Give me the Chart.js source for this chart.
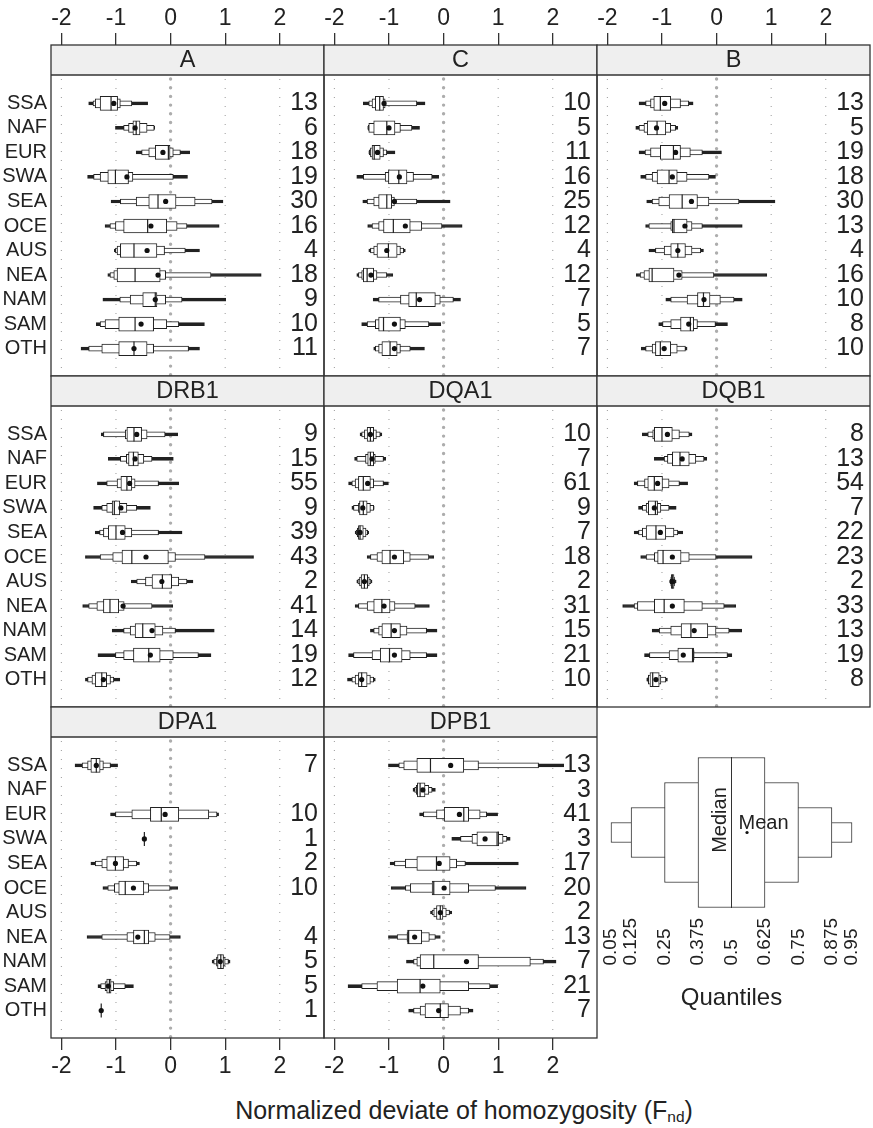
<!DOCTYPE html>
<html>
<head>
<meta charset="utf-8">
<script src="https://cdn.jsdelivr.net/npm/chart.js@4.4.1/dist/chart.umd.min.js"></script>
<style>
  body { margin: 0; background: #fff; width: 873px; height: 1128px; position: relative; overflow: hidden;
         font-family: 'Liberation Sans', Arial, Helvetica, sans-serif; color: #222; }
  .box { position: absolute; }
  #xtitle { position: absolute; left: 0; width: 928px; top: 1098px; text-align: center; font-size: 25px; line-height: 25px; }
  #xtitle sub { font-size: 15.5px; vertical-align: -3px; }
</style>
</head>
<body>
<div id="xtitle">Normalized deviate of homozygosity (F<sub>nd</sub>)</div>
<script>
const regions = ['SSA', 'NAF', 'EUR', 'SWA', 'SEA', 'OCE', 'AUS', 'NEA', 'NAM', 'SAM', 'OTH'];
const xTicks = [-2, -1, 0, 1, 2];

// each row: q05, q125, q25, q375, median, q625, q75, q875, q95
const statsA = [
  [-1.50, -1.42, -1.38, -1.29, -1.09, -0.97, -0.92, -0.71, -0.42],
  [-1.01, -0.86, -0.77, -0.69, -0.63, -0.56, -0.43, -0.30, -0.29],
  [-0.63, -0.53, -0.40, -0.28, -0.04, -0.01, 0.05, 0.18, 0.35],
  [-1.52, -1.41, -1.29, -1.15, -1.01, -0.77, -0.69, 0.05, 0.31],
  [-1.09, -0.92, -0.63, -0.40, -0.23, 0.10, 0.45, 0.76, 0.96],
  [-1.20, -1.11, -1.01, -0.86, -0.42, -0.07, 0.12, 0.30, 0.89],
  [-1.03, -1.01, -0.98, -0.92, -0.67, -0.25, -0.11, 0.27, 0.53],
  [-1.15, -1.11, -1.04, -0.98, -0.65, -0.19, -0.09, 0.74, 1.66],
  [-1.24, -0.93, -0.74, -0.51, -0.28, -0.25, -0.09, 0.21, 1.01],
  [-1.36, -1.29, -1.20, -0.95, -0.65, -0.31, -0.07, 0.15, 0.62],
  [-1.64, -1.50, -1.26, -0.95, -0.67, -0.43, -0.31, 0.33, 0.53]
];
const meanA = [-1.04, -0.65, -0.14, -0.80, -0.09, -0.36, -0.43, -0.23, -0.28, -0.54, -0.67];
const countA = [13, 6, 18, 19, 30, 16, 4, 18, 9, 10, 11];

const statsC = [
  [-1.47, -1.37, -1.31, -1.25, -1.17, -1.10, -1.07, -0.49, -0.34],
  [-1.39, -1.38, -1.37, -1.28, -1.04, -0.89, -0.79, -0.58, -0.44],
  [-1.37, -1.36, -1.34, -1.31, -1.27, -1.16, -1.10, -1.04, -0.89],
  [-1.59, -1.47, -1.07, -1.01, -0.82, -0.67, -0.55, -0.21, -0.09],
  [-1.48, -1.40, -1.28, -1.19, -1.04, -0.95, -0.90, -0.49, 0.12],
  [-1.39, -1.31, -1.19, -1.10, -0.92, -0.61, -0.40, -0.03, 0.34],
  [-1.37, -1.34, -1.28, -1.22, -1.01, -0.85, -0.79, -0.73, -0.70],
  [-1.59, -1.56, -1.50, -1.47, -1.40, -1.28, -1.22, -1.04, -0.93],
  [-1.29, -1.19, -0.79, -0.64, -0.50, -0.15, -0.06, 0.18, 0.31],
  [-1.50, -1.40, -1.25, -1.19, -1.10, -0.79, -0.70, -0.27, -0.05],
  [-1.28, -1.25, -1.19, -1.13, -0.98, -0.85, -0.79, -0.61, -0.35]
];
const meanC = [-1.09, -1.00, -1.21, -0.81, -0.90, -0.70, -1.04, -1.33, -0.44, -0.90, -0.90];
const countC = [10, 5, 11, 16, 25, 12, 4, 12, 7, 5, 7];

const statsB = [
  [-1.42, -1.30, -1.21, -1.15, -1.03, -0.84, -0.66, -0.51, -0.43],
  [-1.48, -1.42, -1.33, -1.27, -1.09, -0.93, -0.84, -0.75, -0.71],
  [-1.42, -1.31, -1.21, -1.03, -0.79, -0.66, -0.48, -0.26, 0.09],
  [-1.39, -1.30, -1.18, -1.09, -0.87, -0.72, -0.54, -0.14, -0.02],
  [-1.28, -1.18, -1.06, -0.87, -0.63, -0.35, -0.14, 0.41, 1.07],
  [-1.30, -1.24, -0.84, -0.81, -0.78, -0.54, -0.45, -0.26, 0.47],
  [-1.24, -1.12, -0.96, -0.84, -0.71, -0.57, -0.45, -0.29, -0.24],
  [-1.47, -1.40, -1.33, -1.24, -1.18, -0.78, -0.63, -0.05, 0.92],
  [-0.93, -0.84, -0.54, -0.35, -0.24, -0.12, 0.07, 0.32, 0.47],
  [-1.06, -0.99, -0.84, -0.66, -0.48, -0.42, -0.35, -0.02, 0.20],
  [-1.38, -1.30, -1.18, -1.12, -1.03, -0.84, -0.72, -0.57, -0.54]
];
const meanB = [-0.95, -1.10, -0.75, -0.81, -0.46, -0.58, -0.71, -0.69, -0.23, -0.51, -0.96];
const countB = [13, 5, 19, 18, 30, 13, 4, 16, 10, 8, 10];

const statsDRB1 = [
  [-1.27, -1.23, -0.83, -0.80, -0.67, -0.53, -0.43, -0.10, 0.13],
  [-1.14, -0.92, -0.81, -0.77, -0.68, -0.59, -0.49, -0.34, 0.05],
  [-1.34, -1.17, -0.98, -0.91, -0.80, -0.71, -0.65, -0.22, 0.15],
  [-1.41, -1.26, -1.17, -1.07, -1.03, -0.93, -0.80, -0.62, -0.37],
  [-1.38, -1.30, -1.23, -1.14, -1.00, -0.83, -0.71, -0.22, 0.21],
  [-1.56, -1.29, -1.06, -0.89, -0.71, -0.04, 0.09, 0.63, 1.52],
  [-0.72, -0.62, -0.46, -0.34, -0.15, 0.02, 0.15, 0.30, 0.41],
  [-1.61, -1.50, -1.35, -1.23, -1.11, -0.95, -0.85, -0.34, 0.04],
  [-1.07, -0.86, -0.74, -0.65, -0.51, -0.28, -0.14, 0.09, 0.80],
  [-1.33, -1.01, -0.86, -0.68, -0.40, -0.19, 0.05, 0.51, 0.74],
  [-1.56, -1.52, -1.44, -1.38, -1.26, -1.17, -1.10, -1.04, -0.93]
];
const meanDRB1 = [-0.62, -0.65, -0.75, -0.91, -0.88, -0.45, -0.16, -0.87, -0.34, -0.37, -1.23];
const countDRB1 = [9, 15, 55, 9, 39, 43, 2, 41, 14, 19, 12];

const statsDQA1 = [
  [-1.53, -1.50, -1.45, -1.40, -1.34, -1.28, -1.23, -1.16, -1.13],
  [-1.63, -1.59, -1.43, -1.39, -1.34, -1.28, -1.25, -1.10, -1.06],
  [-1.74, -1.68, -1.62, -1.56, -1.47, -1.34, -1.28, -1.10, -1.01],
  [-1.68, -1.65, -1.56, -1.54, -1.47, -1.40, -1.34, -1.28, -1.27],
  [-1.62, -1.60, -1.58, -1.56, -1.53, -1.47, -1.42, -1.39, -1.37],
  [-1.40, -1.34, -1.22, -1.13, -0.98, -0.73, -0.61, -0.27, -0.18],
  [-1.59, -1.57, -1.54, -1.51, -1.45, -1.39, -1.36, -1.33, -1.31],
  [-1.62, -1.56, -1.40, -1.28, -1.13, -0.98, -0.89, -0.52, -0.26],
  [-1.34, -1.28, -1.19, -1.13, -0.96, -0.79, -0.67, -0.31, -0.12],
  [-1.74, -1.65, -1.31, -1.16, -0.99, -0.76, -0.61, -0.31, -0.12],
  [-1.76, -1.68, -1.62, -1.56, -1.50, -1.40, -1.34, -1.28, -1.25]
];
const meanDQA1 = [-1.34, -1.31, -1.39, -1.48, -1.53, -0.90, -1.45, -1.09, -0.90, -0.90, -1.50];
const countDQA1 = [10, 7, 61, 9, 7, 18, 2, 31, 15, 21, 10];

const statsDQB1 = [
  [-1.36, -1.26, -1.17, -1.14, -1.00, -0.81, -0.68, -0.50, -0.45],
  [-1.14, -0.96, -0.90, -0.81, -0.67, -0.50, -0.38, -0.23, -0.18],
  [-1.51, -1.45, -1.32, -1.26, -1.14, -0.99, -0.87, -0.68, -0.53],
  [-1.43, -1.36, -1.29, -1.25, -1.12, -1.08, -1.02, -0.87, -0.74],
  [-1.51, -1.43, -1.36, -1.29, -1.11, -0.93, -0.78, -0.71, -0.62],
  [-1.39, -1.29, -1.14, -1.08, -0.98, -0.65, -0.50, -0.01, 0.65],
  [-0.86, -0.85, -0.84, -0.83, -0.81, -0.78, -0.77, -0.76, -0.74],
  [-1.72, -1.51, -1.45, -1.14, -0.96, -0.59, -0.26, 0.14, 0.35],
  [-1.18, -1.05, -0.84, -0.65, -0.47, -0.16, -0.01, 0.23, 0.46],
  [-1.32, -1.23, -0.87, -0.71, -0.44, -0.42, -0.41, 0.20, 0.28],
  [-1.28, -1.26, -1.25, -1.22, -1.17, -1.05, -1.02, -0.93, -0.90]
];
const meanDQB1 = [-0.90, -0.63, -1.08, -1.14, -1.03, -0.81, -0.81, -0.81, -0.41, -0.61, -1.11];
const countDQB1 = [8, 13, 54, 7, 22, 23, 2, 33, 13, 19, 8];

const statsDPA1 = [
  [-1.75, -1.62, -1.52, -1.46, -1.36, -1.29, -1.23, -1.10, -0.97],
  null,
  [-1.10, -1.01, -0.71, -0.37, -0.17, 0.15, 0.70, 0.85, 0.88],
  [-0.48, -0.48, -0.48, -0.48, -0.48, -0.48, -0.48, -0.48, -0.48],
  [-1.46, -1.38, -1.26, -1.17, -1.01, -0.86, -0.77, -0.62, -0.57],
  [-1.24, -1.15, -1.03, -0.95, -0.83, -0.49, -0.40, -0.01, 0.13],
  null,
  [-1.53, -1.26, -0.80, -0.68, -0.48, -0.40, -0.28, -0.01, 0.18],
  [0.76, 0.79, 0.84, 0.86, 0.92, 0.97, 1.00, 1.06, 1.09],
  [-1.33, -1.28, -1.20, -1.17, -1.12, -1.09, -1.04, -0.83, -0.68],
  [-1.27, -1.27, -1.27, -1.27, -1.27, -1.27, -1.27, -1.27, -1.27]
];
const meanDPA1 = [-1.36, null, -0.10, -0.48, -1.01, -0.68, null, -0.60, 0.91, -1.14, -1.27];
const countDPA1 = [7, null, 10, 1, 2, 10, null, 4, 5, 5, 1];

const statsDPB1 = [
  [-1.01, -0.82, -0.73, -0.49, -0.24, 0.37, 0.64, 1.74, 2.20],
  [-0.56, -0.53, -0.50, -0.48, -0.43, -0.34, -0.27, -0.21, -0.15],
  [-0.44, -0.37, -0.13, 0.00, 0.37, 0.46, 0.67, 0.79, 0.99],
  [0.15, 0.31, 0.52, 0.61, 0.98, 1.01, 1.09, 1.16, 1.22],
  [-0.98, -0.90, -0.70, -0.49, -0.13, 0.12, 0.24, 0.40, 1.37],
  [-0.96, -0.70, -0.61, -0.21, -0.18, 0.12, 0.46, 0.95, 1.51],
  [-0.24, -0.21, -0.18, -0.13, -0.06, 0.00, 0.05, 0.11, 0.15],
  [-1.01, -0.85, -0.67, -0.66, -0.64, -0.40, -0.26, -0.15, -0.06],
  [-0.68, -0.55, -0.49, -0.43, -0.18, 0.64, 1.59, 1.83, 2.06],
  [-1.75, -1.50, -1.22, -0.85, -0.43, -0.06, 0.46, 0.85, 0.99],
  [-0.64, -0.55, -0.43, -0.34, -0.06, 0.09, 0.31, 0.46, 0.54]
];
const meanDPB1 = [0.13, -0.38, 0.29, 0.76, -0.08, 0.01, -0.06, -0.53, 0.42, -0.38, -0.09];
const countDPB1 = [13, 3, 41, 3, 17, 20, 2, 13, 7, 21, 7];

// legend key
const quantiles = [0.05, 0.125, 0.25, 0.375, 0.5, 0.625, 0.75, 0.875, 0.95];
const legendMean = 0.558;

const panels = [
  { title: 'A', stats: statsA, mean: meanA, count: countA, col: 0, row: 0 },
  { title: 'C', stats: statsC, mean: meanC, count: countC, col: 1, row: 0 },
  { title: 'B', stats: statsB, mean: meanB, count: countB, col: 2, row: 0 },
  { title: 'DRB1', stats: statsDRB1, mean: meanDRB1, count: countDRB1, col: 0, row: 1 },
  { title: 'DQA1', stats: statsDQA1, mean: meanDQA1, count: countDQA1, col: 1, row: 1 },
  { title: 'DQB1', stats: statsDQB1, mean: meanDQB1, count: countDQB1, col: 2, row: 1 },
  { title: 'DPA1', stats: statsDPA1, mean: meanDPA1, count: countDPA1, col: 0, row: 2 },
  { title: 'DPB1', stats: statsDPB1, mean: meanDPB1, count: countDPB1, col: 1, row: 2 }
];

const FONT = "'Liberation Sans', Arial, Helvetica, sans-serif";
Chart.defaults.font.family = FONT;
Chart.defaults.color = '#222';

const INK = '#222';
// nested boxes: index pairs into a stats row, and bar thickness
const levels = [
  { lo: 3, hi: 5, t: 14, fill: '#fff', order: 2 },
  { lo: 2, hi: 6, t: 9, fill: '#fff', order: 3 },
  { lo: 1, hi: 7, t: 5, fill: '#fff', order: 4 },
  { lo: 0, hi: 8, t: 3, fill: INK, order: 5 }
];
const legendThick = [150, 100, 50, 20];

const colLeft = [51, 324, 597];
const rowTop = [75, 406, 737];
const areaW = 273, areaH = 301, stripH = 30;
const yMin = -0.6, yMax = 10.56;

function addBox(left, top, w, h) {
  const d = document.createElement('div');
  d.className = 'box';
  d.style.left = left + 'px'; d.style.top = top + 'px';
  d.style.width = w + 'px'; d.style.height = h + 'px';
  const c = document.createElement('canvas');
  d.appendChild(c);
  document.body.appendChild(d);
  return c;
}

const framePlugin = {
  id: 'frame',
  beforeDatasetsDraw(chart) {
    const { ctx, chartArea: a } = chart;
    const x = chart.scales.x;
    ctx.save();
    ctx.beginPath();
    ctx.rect(a.left, a.top, a.right - a.left, a.bottom - a.top);
    ctx.clip();
    xTicks.forEach(v => {
      const px = x.getPixelForValue(v);
      ctx.beginPath();
      if (v === 0) {
        ctx.lineWidth = 3.4; ctx.setLineDash([0, 8.7]); ctx.lineCap = 'round'; ctx.strokeStyle = '#adadad';
      } else {
        ctx.lineWidth = 1; ctx.setLineDash([1, 8]); ctx.lineCap = 'butt'; ctx.strokeStyle = '#9a9a9a';
      }
      ctx.moveTo(px, a.top + 4);
      ctx.lineTo(px, a.bottom);
      ctx.stroke();
    });
    ctx.restore();
  },
  afterDraw(chart, args, opts) {
    const { ctx, chartArea: a } = chart;
    const s = chart.scales.strip;
    ctx.save();
    ctx.fillStyle = '#efefef';
    ctx.fillRect(a.left, s.top, a.right - a.left, s.bottom - s.top);
    ctx.strokeStyle = '#333';
    ctx.lineWidth = 1.3;
    ctx.strokeRect(a.left, s.top, a.right - a.left, a.bottom - s.top);
    ctx.beginPath();
    ctx.moveTo(a.left, s.bottom);
    ctx.lineTo(a.right, s.bottom);
    ctx.stroke();
    ctx.fillStyle = INK;
    ctx.font = '23.5px ' + FONT;
    ctx.textAlign = 'center';
    ctx.textBaseline = 'middle';
    ctx.fillText(opts.title, (a.left + a.right) / 2, (s.top + s.bottom) / 2 + 1);
    ctx.restore();
  }
};

function rowTicks(scale) {
  scale.ticks = regions.map((r, i) => ({ value: i }));
}

function makePanel(p) {
  const X = colLeft[p.col], Y = rowTop[p.row];
  const left = p.col === 0 ? 0 : X - 2;
  const top = p.row === 0 ? 0 : Y - stripH - 2;
  const w = X - left + areaW + 2;
  const h = Y - top + areaH + (p.row === 2 ? 50 : 2);
  const cv = addBox(left, top, w, h);

  const datasets = levels.map(l => ({
    type: 'bar',
    indexAxis: 'y',
    data: p.stats.map(s => s ? [s[l.lo], s[l.hi]] : null),
    backgroundColor: l.fill,
    borderColor: INK,
    borderWidth: 1,
    borderSkipped: false,
    barThickness: l.t,
    maxBarThickness: l.t,
    grouped: false,
    order: l.order
  }));
  datasets.push({
    type: 'scatter',
    data: p.stats.map((s, i) => s ? { x: s[4], y: i } : null).filter(Boolean),
    pointStyle: 'line',
    rotation: 90,
    radius: 7,
    borderColor: INK,
    borderWidth: 1.2,
    order: 1
  });
  datasets.push({
    type: 'scatter',
    data: p.mean.map((m, i) => m == null ? null : { x: m, y: i }).filter(Boolean),
    pointStyle: 'circle',
    radius: 2.6,
    backgroundColor: '#111',
    borderWidth: 0,
    order: 0
  });

  new Chart(cv, {
    type: 'bar',
    data: { labels: regions.map((r, i) => i), datasets },
    plugins: [framePlugin],
    options: {
      responsive: true,
      maintainAspectRatio: false,
      animation: false,
      events: [],
      indexAxis: 'y',
      layout: { autoPadding: false,
                padding: { left: p.col === 0 ? 0 : 2, right: 2, top: p.row === 0 ? 0 : 2, bottom: p.row === 2 ? 0 : 2 } },
      plugins: { legend: { display: false }, tooltip: { enabled: false }, frame: { title: p.title } },
      scales: {
        x: {
          type: 'linear', min: -2.19, max: 2.81,
          position: p.row === 0 ? 'top' : 'bottom',
          display: p.row !== 1,
          weight: 2,
          afterBuildTicks: s => { s.ticks = xTicks.map(v => ({ value: v })); },
          afterFit: s => {
            if (p.row !== 1) s.height = p.row === 0 ? 45 : 50;
            s.paddingLeft = 0; s.paddingRight = 0;
          },
          grid: { drawOnChartArea: false, drawTicks: true, tickLength: 12, color: '#333', lineWidth: 1.3 },
          border: { display: false },
          ticks: { font: { size: 23 }, color: INK, padding: p.row === 0 ? 1 : 3, maxRotation: 0, autoSkip: false }
        },
        strip: {
          type: 'linear', axis: 'x', position: 'top', weight: 1, min: 0, max: 1,
          grid: { display: false, drawTicks: false }, border: { display: false },
          ticks: { display: false },
          afterFit: s => { s.height = stripH; }
        },
        y: {
          type: 'linear', min: yMin, max: yMax, reverse: true,
          display: p.col === 0,
          afterBuildTicks: rowTicks,
          afterFit: s => { s.width = p.col === 0 ? 51 : 0; s.paddingTop = 0; s.paddingBottom = 0; },
          grid: { display: false, drawTicks: false }, border: { display: false },
          ticks: { callback: v => regions[v], font: { size: 20 }, color: INK, padding: 4, autoSkip: false }
        },
        n: {
          type: 'linear', axis: 'y', position: 'right', min: yMin, max: yMax, reverse: true,
          afterBuildTicks: rowTicks,
          afterFit: s => { s.width = 0; s.paddingTop = 0; s.paddingBottom = 0; },
          grid: { display: false, drawTicks: false }, border: { display: false },
          ticks: { mirror: true, padding: -6, callback: v => p.count[v] == null ? '' : String(p.count[v]),
                   font: { size: 25 }, color: INK, autoSkip: false }
        }
      }
    }
  });
}

panels.forEach(makePanel);

// legend key panel
const legendPlugin = {
  id: 'legendText',
  afterDraw(chart) {
    const { ctx } = chart;
    const x = chart.scales.x, y = chart.scales.y;
    const cy = y.getPixelForValue(0);
    ctx.save();
    ctx.fillStyle = INK;
    ctx.font = '19px ' + FONT;
    quantiles.forEach(q => {
      ctx.save();
      ctx.translate(x.getPixelForValue(q), cy + 133);
      ctx.rotate(-Math.PI / 2);
      ctx.textAlign = 'left';
      ctx.textBaseline = 'middle';
      ctx.fillText(String(q), 0, 0);
      ctx.restore();
    });
    ctx.font = '20px ' + FONT;
    ctx.save();
    ctx.translate(x.getPixelForValue(0.5) - 11.5, cy - 12.5);
    ctx.rotate(-Math.PI / 2);
    ctx.textAlign = 'center';
    ctx.textBaseline = 'middle';
    ctx.fillText('Median', 0, 0);
    ctx.restore();
    ctx.textAlign = 'left';
    ctx.textBaseline = 'alphabetic';
    ctx.fillText('Mean', x.getPixelForValue(legendMean) - 8.5, cy - 3.5);
    ctx.font = '24px ' + FONT;
    ctx.textAlign = 'center';
    ctx.fillText('Quantiles', x.getPixelForValue(0.5), cy + 172.5);
    ctx.restore();
  }
};

const lcv = addBox(597, 737, 273, 290);
const legendSets = levels.map((l, k) => ({
  type: 'bar',
  indexAxis: 'y',
  data: [[quantiles[l.lo], quantiles[l.hi]]],
  backgroundColor: '#fff',
  borderColor: '#333',
  borderWidth: 1,
  borderSkipped: false,
  barThickness: legendThick[k],
  maxBarThickness: legendThick[k],
  grouped: false,
  order: l.order
}));
legendSets.push({
  type: 'scatter', data: [{ x: quantiles[4], y: 0 }], pointStyle: 'line', rotation: 90,
  radius: 75.5, borderColor: '#333', borderWidth: 1, order: 1
});
legendSets.push({
  type: 'scatter', data: [{ x: legendMean, y: 0 }], pointStyle: 'circle', radius: 1.6,
  backgroundColor: '#111', borderWidth: 0, order: 0
});
new Chart(lcv, {
  type: 'bar',
  data: { labels: [0], datasets: legendSets },
  plugins: [legendPlugin],
  options: {
    responsive: true, maintainAspectRatio: false, animation: false, events: [], indexAxis: 'y',
    layout: { autoPadding: false, padding: { left: 0.6, right: 4.6, top: 8, bottom: 107 } },
    plugins: { legend: { display: false }, tooltip: { enabled: false } },
    scales: {
      x: { type: 'linear', min: 0, max: 1, display: false },
      y: { type: 'linear', min: -1, max: 1, display: false,
           afterBuildTicks: s => { s.ticks = [{ value: 0 }]; } }
    }
  }
});
</script>
</body>
</html>
